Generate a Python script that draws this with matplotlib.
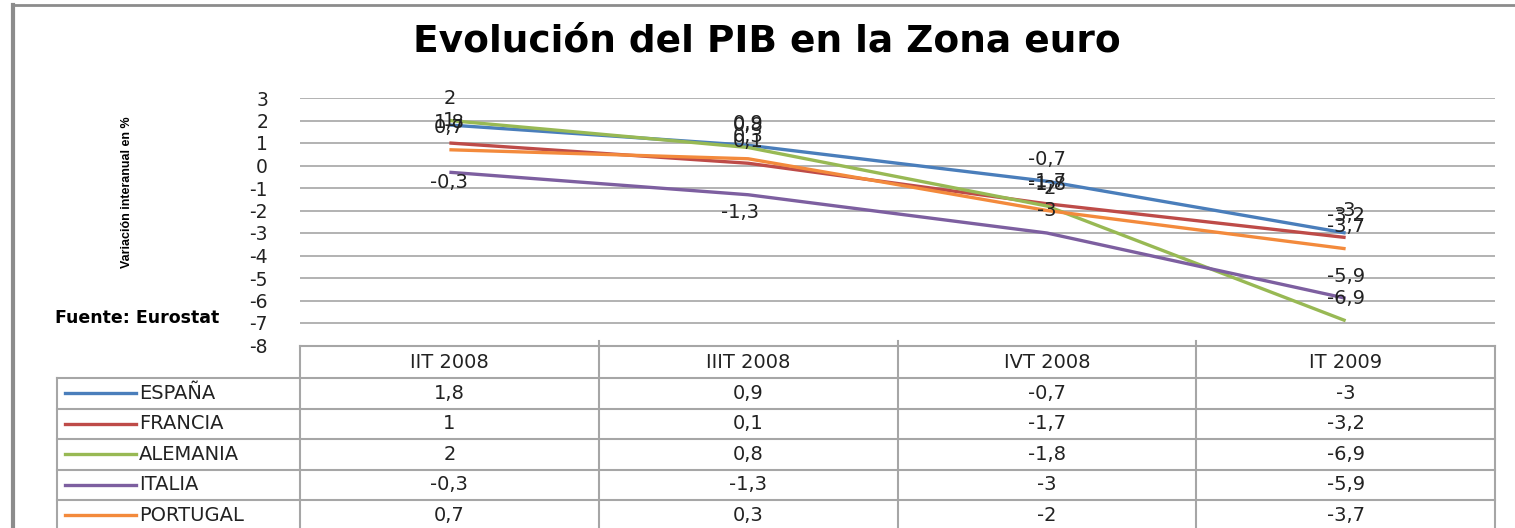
import matplotlib
matplotlib.use("Agg")
import matplotlib.pyplot as plt

plt.rcParams['font.family'] = ['DejaVu Sans']
plt.rcParams['axes.unicode_minus'] = False

# datos (variación interanual del PIB, %)
trimestres = ["IIT 2008", "IIIT 2008", "IVT 2008", "IT 2009"]
paises = ["ESPAÑA", "FRANCIA", "ALEMANIA", "ITALIA", "PORTUGAL"]
espana = [1.8, 0.9, -0.7, -3]
francia = [1, 0.1, -1.7, -3.2]
alemania = [2, 0.8, -1.8, -6.9]
italia = [-0.3, -1.3, -3, -5.9]
portugal = [0.7, 0.3, -2, -3.7]
series = [espana, francia, alemania, italia, portugal]
colores = ["#4A7EBB", "#BE4B48", "#98B954", "#7D5FA0", "#F38A3C"]
yticks = list(range(-8, 4))

# desplazamiento de etiquetas (pixeles), por defecto encima
offs_def = (0, 22)
offs_esp = {(0, 0): (0, 2), (3, 0): (0, -10), (3, 1): (-8, -18)}

W, H = 1515, 528
fig = plt.figure(figsize=(W / 100, H / 100), dpi=100)

def fx(px):
    return px / W

def fy(py):
    return 1 - py / H

# zona del grafico
x0, x1 = 300, 1495
ytop, ybot = 98, 345.5
ax = fig.add_axes([fx(x0), fy(ybot), fx(x1) - fx(x0), fy(ytop) - fy(ybot)])
ax.set_xlim(-0.5, len(trimestres) - 0.5)
ax.set_ylim(-8, 3)
ax.set_yticks(yticks)
ax.set_yticklabels([str(t) for t in yticks], fontsize=13.5, color='#222222')
ax.set_xticks([])
ax.tick_params(axis='y', length=0, pad=23)
for s in ax.spines.values():
    s.set_visible(False)
ax.grid(axis='y', color='#A6A6A6', lw=1.2)
ax.set_axisbelow(True)
ax.patch.set_alpha(0)

xs = list(range(len(trimestres)))
for i, (vals, c) in enumerate(zip(series, colores)):
    ax.plot(xs, vals, color=c, lw=2.4, solid_capstyle='butt')
for i, vals in enumerate(series):
    for j, v in enumerate(vals):
        dx, dy = offs_esp.get((i, j), offs_def)
        ax.annotate(f"{v:g}".replace('.', ','), (j, v), xytext=(dx, dy),
                    textcoords='offset pixels', ha='center', va='center',
                    fontsize=14, color='#222222', annotation_clip=False)

# capa de pixeles para tabla, bordes y textos
ov = fig.add_axes([0, 0, 1, 1], zorder=5)
ov.set_xlim(0, W)
ov.set_ylim(H, 0)
ov.axis('off')
ov.patch.set_alpha(0)

# bordes del grafico
ov.plot([13, 13], [5, H], color='#8C8C8C', lw=3)
ov.plot([13, W], [5, 5], color='#8C8C8C', lw=2)

ov.text(767, 41, "Evolución del PIB en la Zona euro", ha='center', va='center',
        fontsize=27, fontweight='bold', color='black')
ov.text(127, 192, "Variación interanual en %", rotation=90, ha='center', va='center',
        fontsize=9, fontweight='bold', family=['Liberation Sans', 'DejaVu Sans'],
        color='black')
ov.text(55, 318, "Fuente: Eurostat", ha='left', va='center', fontsize=12.5,
        fontweight='bold', color='black')

# tabla de datos
col_w = (x1 - x0) / len(trimestres)
cols = [x0 + k * col_w for k in range(len(trimestres) + 1)]
leg_x = 57
head_top, head_bot = 346, 378
row_h = 30.5
rows = [head_bot + k * row_h for k in range(len(paises) + 1)]
lc = '#A6A6A6'
ov.plot([x0, x1], [head_top, head_top], color=lc, lw=1.5)
for yy in rows:
    ov.plot([leg_x, x1], [yy, yy], color=lc, lw=1.5)
ov.plot([leg_x, leg_x], [head_bot, H], color=lc, lw=1.5)
for k, xx in enumerate(cols):
    top = head_top if k in (0, len(cols) - 1) else head_top - 5
    ov.plot([xx, xx], [top, H], color=lc, lw=1.5)

for k, t in enumerate(trimestres):
    ov.text((cols[k] + cols[k + 1]) / 2, (head_top + head_bot) / 2 + 1, t,
            ha='center', va='center', fontsize=14, color='#222222')
for i, (p, vals, c) in enumerate(zip(paises, series, colores)):
    yc = rows[i] + row_h / 2
    ov.plot([65, 136], [yc, yc], color=c, lw=2.4)
    ov.text(139, yc, p, ha='left', va='center', fontsize=14, color='#222222')
    for k, v in enumerate(vals):
        ov.text((cols[k] + cols[k + 1]) / 2, yc, f"{v:g}".replace('.', ','),
                ha='center', va='center', fontsize=14, color='#222222')

fig.savefig("out.png", dpi=100)
